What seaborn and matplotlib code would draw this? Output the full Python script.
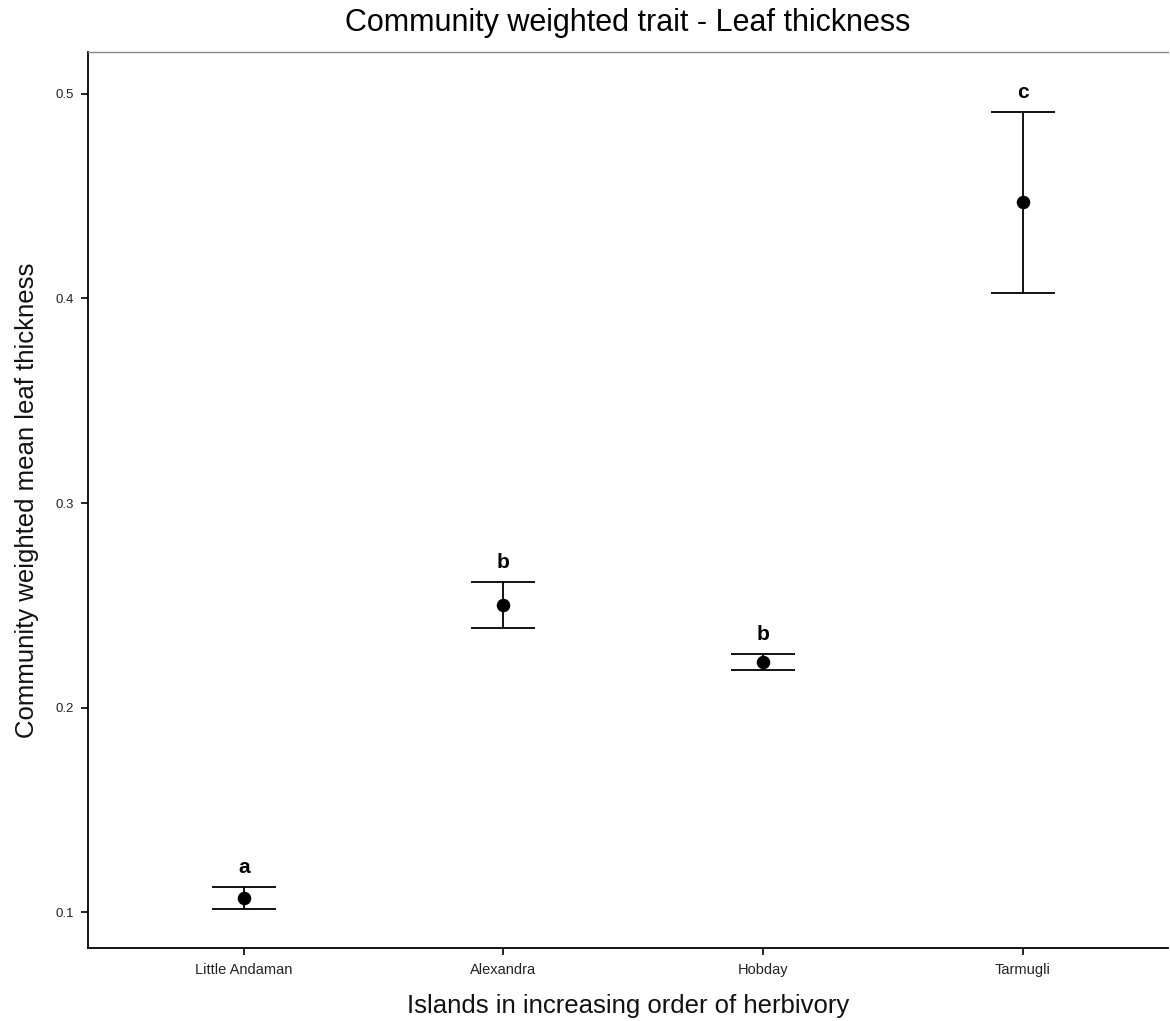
import matplotlib
matplotlib.use("Agg")
import matplotlib.pyplot as plt
import seaborn as sns
import pandas as pd

islands = ["Little Andaman", "Alexandra", "Hobday", "Tarmugli"]
mean_thickness = [0.1068, 0.2501, 0.2222, 0.4472]
lower_ci = [0.1015, 0.2389, 0.2183, 0.4027]
upper_ci = [0.1122, 0.2614, 0.2262, 0.4912]
group_letters = ["a", "b", "b", "c"]

df = pd.DataFrame({"island": islands, "cwm": mean_thickness,
                   "lo": lower_ci, "hi": upper_ci, "grp": group_letters})

sns.set_theme(style="white")
plt.rcParams["font.family"] = ["Liberation Sans", "DejaVu Sans"]

fig = plt.figure(figsize=(11.7, 10.21), dpi=100)
ax = fig.add_axes([0.0752, 0.0715, 0.9231, 0.8775])

xpos = list(range(len(islands)))
ax.errorbar(xpos, df["cwm"],
            yerr=[df["cwm"] - df["lo"], df["hi"] - df["cwm"]],
            fmt="none", ecolor="black", elinewidth=1.3, capsize=23,
            capthick=1.3, zorder=2)
sns.scatterplot(data=df, x="island", y="cwm", ax=ax, color="black",
                s=95, edgecolor="black", linewidth=0, zorder=3, legend=False)

# significance group letters above each upper bar
for i, row in df.iterrows():
    ax.text(i, row["hi"] + 0.0095, row["grp"], ha="center", va="center",
            fontsize=15, fontweight="bold", color="black")

ax.set_xlim(-0.6, 3.56)
ax.set_ylim(0.0824, 0.5205)
ax.set_yticks([0.1, 0.2, 0.3, 0.4, 0.5])
ax.set_yticklabels(["0.1", "0.2", "0.3", "0.4", "0.5"])
ax.set_xticks(xpos)
ax.set_xticklabels(islands)

ax.tick_params(axis="both", which="major", direction="out", length=5,
               width=1.2, color="black", labelcolor="#222222",
               bottom=True, left=True)
ax.tick_params(axis="x", labelsize=10.5, pad=6)
ax.tick_params(axis="y", labelsize=9.5, pad=5)

for side in ["left", "bottom"]:
    ax.spines[side].set_color("black")
    ax.spines[side].set_linewidth(1.3)
ax.spines["top"].set_color("#888888")
ax.spines["top"].set_linewidth(1.0)
ax.spines["right"].set_visible(False)

ax.set_xlabel("Islands in increasing order of herbivory", fontsize=18.5,
              color="#111111", labelpad=12)
ax.set_ylabel("Community weighted mean leaf thickness", fontsize=18.5,
              color="#111111", labelpad=12)
ax.set_title("Community weighted trait - Leaf thickness", fontsize=22,
             color="black", pad=15)

fig.savefig("out.png", dpi=100)
